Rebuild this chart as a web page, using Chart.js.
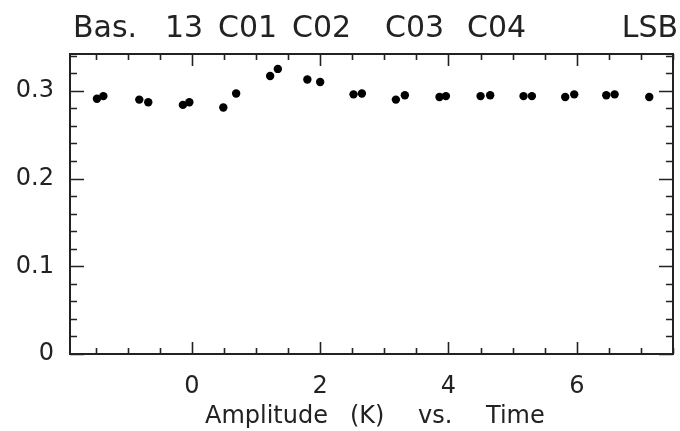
<!DOCTYPE html>
<html>
<head>
<meta charset="utf-8">
<script src="https://cdn.jsdelivr.net/npm/chart.js@4/dist/chart.umd.min.js"></script>
<style>
  html, body { margin: 0; padding: 0; background: #fff; }
  #wrap { width: 680px; height: 431px; }
</style>
</head>
<body>
<div id="wrap"><canvas id="chart" width="680" height="431"></canvas></div>
<script>
'use strict';

/* ── Data ── */
const timeVals = [-1.48, -1.38, -0.82, -0.68, -0.14, -0.04, 0.49, 0.69, 1.22, 1.34,
                  1.80, 2.00, 2.52, 2.65, 3.18, 3.32, 3.86, 3.96, 4.50, 4.65,
                  5.17, 5.30, 5.82, 5.96, 6.46, 6.59, 7.13];
const ampVals  = [0.291, 0.294, 0.290, 0.287, 0.284, 0.287, 0.281, 0.297, 0.317, 0.325,
                  0.313, 0.310, 0.296, 0.297, 0.290, 0.295, 0.293, 0.294, 0.294, 0.295,
                  0.294, 0.294, 0.293, 0.296, 0.295, 0.296, 0.293];

/* ── Axes ── */
const xRange = [-1.9, 7.5];
const yRange = [0, 0.342];
const xTickLabels = [0, 2, 4, 6];
const yTickLabels = [0, 0.1, 0.2, 0.3];
const xMinorStep = 0.5;
const yMinorStep = 0.02;

/* ── Texts ── */
const titleWords = ['Bas.', '13', 'C01', 'C02', 'C03', 'C04'];
const titleRight = 'LSB';
const xLabelWords = ['Amplitude', '(K)', 'vs.', 'Time'];

const INK = '#222';
const FONT = "'DejaVu Sans', sans-serif";

/* frame, ticks and header texts */
const framePlugin = {
    id: 'frame',
    afterDraw(chart) {
        const { ctx, chartArea: a, scales: { x, y } } = chart;
        ctx.save();
        ctx.strokeStyle = INK;
        ctx.lineWidth = 2;
        ctx.strokeRect(a.left, a.top, a.right - a.left, a.bottom - a.top);

        ctx.lineWidth = 1.6;
        ctx.beginPath();
        // x ticks (bottom + top, pointing inward)
        for (let v = Math.ceil(xRange[0] / xMinorStep) * xMinorStep; v <= xRange[1] + 1e-9; v += xMinorStep) {
            const px = Math.round(x.getPixelForValue(v)) + 0.5;
            const major = xTickLabels.some(t => Math.abs(t - v) < 1e-6);
            const len = major ? 12 : 6;
            ctx.moveTo(px, a.bottom); ctx.lineTo(px, a.bottom - len);
            ctx.moveTo(px, a.top); ctx.lineTo(px, a.top + len);
        }
        // y ticks (left + right, pointing inward)
        for (let v = 0; v <= yRange[1] + 1e-9; v += yMinorStep) {
            const py = Math.round(y.getPixelForValue(v)) + 0.5;
            const major = yTickLabels.some(t => Math.abs(t - v) < 1e-6);
            const len = major ? 14 : 7;
            ctx.moveTo(a.left, py); ctx.lineTo(a.left + len, py);
            ctx.moveTo(a.right, py); ctx.lineTo(a.right - len, py);
        }
        ctx.stroke();

        // header
        ctx.fillStyle = INK;
        ctx.font = `30px ${FONT}`;
        ctx.textBaseline = 'alphabetic';
        ctx.textAlign = 'left';
        const titleX = [73, 165, 218, 292, 385, 467];
        titleWords.forEach((w, i) => ctx.fillText(w, titleX[i], 37));
        ctx.textAlign = 'right';
        ctx.fillText(titleRight, 678, 37);

        // x label
        ctx.font = `24px ${FONT}`;
        ctx.textAlign = 'left';
        const labelX = [205, 350, 418, 486];
        xLabelWords.forEach((w, i) => ctx.fillText(w, labelX[i], 423));
        ctx.restore();
    },
};

new Chart(document.getElementById('chart'), {
    type: 'scatter',
    data: {
        datasets: [{
            data: timeVals.map((t, i) => ({ x: t, y: ampVals[i] })),
            backgroundColor: '#000',
            borderWidth: 0,
            pointRadius: 4.2,
            pointHoverRadius: 4.2,
        }],
    },
    options: {
        responsive: false,
        animation: false,
        layout: { padding: { top: 54, right: 7, left: 0, bottom: 0 } },
        plugins: {
            legend: { display: false },
            tooltip: { enabled: false },
        },
        scales: {
            x: {
                type: 'linear',
                min: xRange[0],
                max: xRange[1],
                grid: { display: false },
                border: { display: false },
                afterFit: s => { s.height = 77; },
                afterBuildTicks: s => { s.ticks = xTickLabels.map(v => ({ value: v })); },
                ticks: {
                    color: INK,
                    font: { family: FONT, size: 24 },
                    padding: 10,
                    maxRotation: 0,
                    callback: v => String(v),
                },
            },
            y: {
                type: 'linear',
                min: yRange[0],
                max: yRange[1],
                grid: { display: false },
                border: { display: false },
                afterFit: s => { s.width = 70; },
                afterBuildTicks: s => { s.ticks = yTickLabels.map(v => ({ value: v })); },
                ticks: {
                    color: INK,
                    font: { family: FONT, size: 24 },
                    padding: 8,
                    callback: v => String(v),
                },
            },
        },
    },
    plugins: [framePlugin],
});
</script>
</body>
</html>
